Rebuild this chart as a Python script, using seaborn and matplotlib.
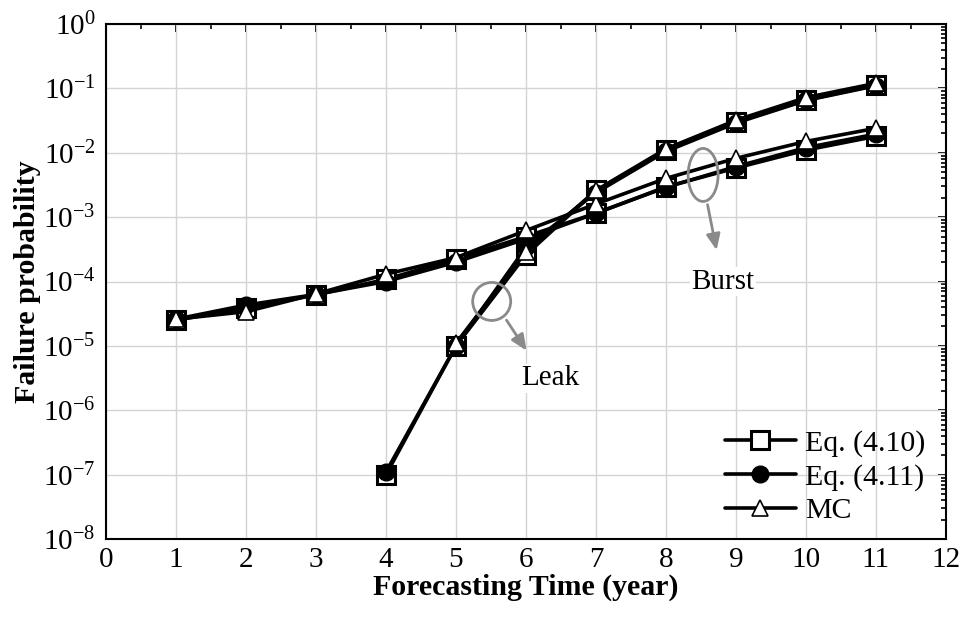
import numpy as np
import pandas as pd
import matplotlib
matplotlib.use("Agg")
import matplotlib.pyplot as plt
import seaborn as sns
from matplotlib.lines import Line2D
from matplotlib.patches import Ellipse
from matplotlib.ticker import MultipleLocator, LogLocator, NullFormatter

# Forecasting years
years = [1, 2, 3, 4, 5, 6, 7, 8, 9, 10, 11]
nan = np.nan

# Leak failure probability
leak_eq410 = [nan, nan, nan, 1.0e-7, 1.0e-5, 2.6e-4, 2.6e-3, 1.10e-2, 3.0e-2, 6.6e-2, 1.12e-1]
leak_eq411 = [nan, nan, nan, 1.1e-7, 1.0e-5, 3.4e-4, 2.4e-3, 1.05e-2, 2.9e-2, 6.5e-2, 1.10e-1]
leak_mc = [nan, nan, nan, nan, 1.1e-5, 2.9e-4, 2.6e-3, 1.15e-2, 3.2e-2, 7.2e-2, 1.20e-1]

# Burst failure probability
burst_eq410 = [2.5e-5, 3.9e-5, 6.2e-5, 1.08e-4, 2.25e-4, 5.0e-4, 1.15e-3, 2.95e-3, 5.8e-3, 1.10e-2, 1.80e-2]
burst_eq411 = [2.6e-5, 4.3e-5, 6.3e-5, 1.00e-4, 2.00e-4, 4.6e-4, 1.15e-3, 2.90e-3, 6.1e-3, 1.20e-2, 1.95e-2]
burst_mc = [2.6e-5, 3.4e-5, 6.4e-5, 1.30e-4, 2.35e-4, 6.2e-4, 1.60e-3, 4.00e-3, 8.2e-3, 1.50e-2, 2.40e-2]

methods = ["Eq. (4.10)", "Eq. (4.11)", "MC"]
x_ticks = list(range(0, 13))

series = {
    ("Leak", "Eq. (4.10)"): leak_eq410,
    ("Leak", "Eq. (4.11)"): leak_eq411,
    ("Leak", "MC"): leak_mc,
    ("Burst", "Eq. (4.10)"): burst_eq410,
    ("Burst", "Eq. (4.11)"): burst_eq411,
    ("Burst", "MC"): burst_mc,
}
frames = []
for (mode, method), vals in series.items():
    frames.append(pd.DataFrame({"year": years, "prob": vals, "mode": mode, "method": method}))
df = pd.concat(frames, ignore_index=True).dropna()

sns.set_theme(style="white")
plt.rcParams["font.family"] = ["Liberation Serif", "DejaVu Serif"]
plt.rcParams["mathtext.fontset"] = "custom"
plt.rcParams["mathtext.rm"] = "Liberation Serif"
plt.rcParams["axes.unicode_minus"] = False
for key in ["text.color", "axes.labelcolor", "xtick.color", "ytick.color", "axes.edgecolor"]:
    plt.rcParams[key] = "black"

fig = plt.figure(figsize=(9.67, 6.22), dpi=100)
ax = fig.add_axes([106 / 967, 1 - 539 / 622, 840 / 967, 515 / 622])

marker_style = {
    "Eq. (4.10)": dict(marker="s", markersize=13.5, markerfacecolor="white",
                       markeredgecolor="black", markeredgewidth=2.2),
    "Eq. (4.11)": dict(marker="o", markersize=12, markerfacecolor="black",
                       markeredgecolor="black", markeredgewidth=1.0),
    "MC": dict(marker="^", markersize=11, markerfacecolor="white",
               markeredgecolor="black", markeredgewidth=1.2),
}

z = 3
for method in methods:
    for mode in ["Burst", "Leak"]:
        sub = df[(df["mode"] == mode) & (df["method"] == method)]
        sns.lineplot(data=sub, x="year", y="prob", ax=ax, color="black",
                     linewidth=2.6, estimator=None, sort=True, zorder=z,
                     **marker_style[method])
        z += 0.1

ax.set_yscale("log")
ax.set_xlim(0, 12)
ax.set_ylim(1e-8, 1)
ax.set_xticks(x_ticks)
ax.xaxis.set_minor_locator(MultipleLocator(0.5))
ax.yaxis.set_major_locator(LogLocator(base=10, numticks=20))
ax.yaxis.set_minor_locator(LogLocator(base=10, subs=np.arange(2, 10), numticks=20))
ax.yaxis.set_minor_formatter(NullFormatter())

ax.grid(True, which="major", color="#d4d4d4", linewidth=1.0)
ax.set_axisbelow(True)
for s in ax.spines.values():
    s.set_color("black")
    s.set_linewidth(1.5)

ax.tick_params(which="major", direction="out", length=6, width=1.4, colors="black",
               labelsize=21)
ax.tick_params(axis="x", which="major", pad=0)
ax.tick_params(axis="y", which="major", pad=1.5)
ax.tick_params(which="minor", direction="out", length=3.3, width=1.2, colors="black")

# inward ticks mirrored on the top and right edges
top = ax.secondary_xaxis("top")
top.set_xticks(x_ticks)
top.xaxis.set_minor_locator(MultipleLocator(0.5))
top.tick_params(which="major", direction="in", length=6, width=1.4, labeltop=False)
top.tick_params(which="minor", direction="in", length=3.3, width=1.2)
right = ax.secondary_yaxis("right")
right.yaxis.set_major_locator(LogLocator(base=10, numticks=20))
right.yaxis.set_minor_locator(LogLocator(base=10, subs=np.arange(2, 10), numticks=20))
right.tick_params(which="major", direction="in", length=6, width=1.4, labelright=False)
right.tick_params(which="minor", direction="in", length=3.3, width=1.2, labelright=False)

ax.set_xlabel("Forecasting Time (year)", fontsize=21.5, fontweight="bold", labelpad=0)
ax.set_ylabel("Failure probability", fontsize=21.5, fontweight="bold", labelpad=1)

# legend
handles = [Line2D([0], [0], color="black", linewidth=2.6, **marker_style[m]) for m in methods]
ax.legend(handles, methods, loc="lower right", frameon=False, fontsize=21.5,
          handlelength=2.4, handletextpad=0.3, labelspacing=0.22,
          borderaxespad=0.0, bbox_to_anchor=(0.99, 0.005))

# grouping marks for the two failure modes
gray = "#8a8a8a"
ax_w = ax.get_position().width * fig.get_figwidth() * fig.dpi
ax_h = ax.get_position().height * fig.get_figheight() * fig.dpi
to_axes = ax.transData + ax.transAxes.inverted()

for (cx, cy, w_px, h_px) in [(5.51, 10 ** -4.31, 38, 38), (8.53, 10 ** -2.345, 30, 53)]:
    c = to_axes.transform((cx, cy))
    ax.add_patch(Ellipse(c, w_px / ax_w, h_px / ax_h, transform=ax.transAxes,
                         fill=False, edgecolor=gray, linewidth=2.0, zorder=6))

arrow = dict(arrowstyle="-|>,head_length=0.8,head_width=0.35", color=gray, lw=2.0)
ax.annotate("", xy=(6.03, 10 ** -5.11), xytext=(5.70, 10 ** -4.565),
            arrowprops=arrow, zorder=6)
ax.annotate("", xy=(8.73, 10 ** -3.556), xytext=(8.586, 10 ** -2.764),
            arrowprops=arrow, zorder=6)
ax.text(6.34, 10 ** -5.5, "Leak", fontsize=21, ha="center", va="center", zorder=5,
        bbox=dict(facecolor="white", edgecolor="none", pad=1))
ax.text(8.81, 10 ** -4.006, "Burst", fontsize=21, ha="center", va="center", zorder=5,
        bbox=dict(facecolor="white", edgecolor="none", pad=1))

fig.savefig("out.png", dpi=100)
